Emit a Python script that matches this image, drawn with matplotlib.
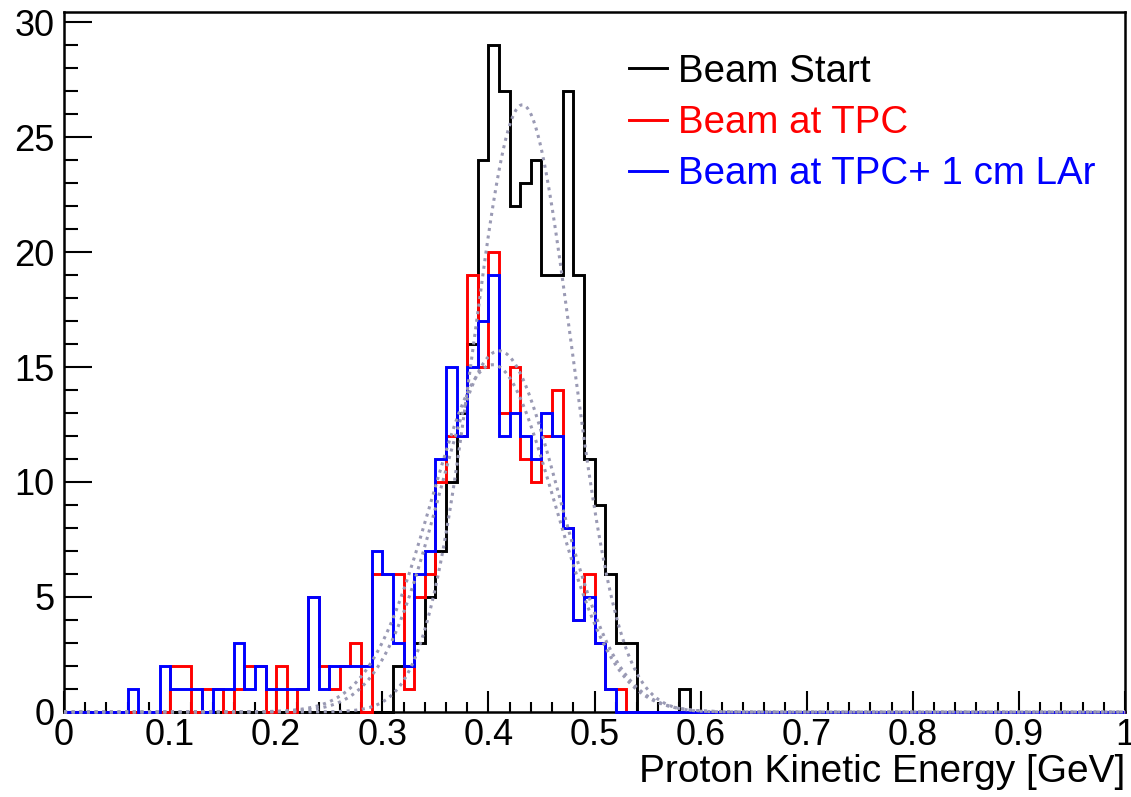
import numpy as np
import matplotlib
matplotlib.use("Agg")
import matplotlib.pyplot as plt

plt.rcParams['font.family'] = ['Liberation Sans', 'DejaVu Sans']

# 100 bins of 0.01 GeV from 0 to 1
bin_edges = np.linspace(0.0, 1.0, 101)

beam_start = (
    [0] * 20
    + [0, 0, 0, 0, 0, 0, 0, 0, 0, 0, 0, 2, 2, 3, 5, 7, 10, 13, 16, 24]
    + [29, 27, 22, 23, 24, 19, 19, 27, 19, 11, 9, 6, 3, 3, 0, 0, 0, 0, 1, 0]
    + [0] * 40
)
beam_tpc = (
    [0, 0, 0, 0, 0, 0, 0, 0, 0, 0, 2, 2, 0, 1, 1, 0, 1, 2, 2, 0]
    + [2, 0, 1, 5, 2, 1, 2, 3, 0, 6, 6, 6, 1, 5, 6, 10, 12, 12, 19, 15]
    + [20, 13, 15, 11, 10, 12, 14, 8, 4, 6, 3, 1, 1, 0, 0, 0, 0, 0, 0, 0]
    + [0] * 40
)
beam_tpc_lar = (
    [0, 0, 0, 0, 0, 0, 1, 0, 0, 2, 1, 1, 1, 0, 1, 1, 3, 1, 2, 1]
    + [1, 1, 1, 5, 1, 2, 2, 2, 2, 7, 6, 3, 2, 6, 7, 11, 15, 12, 15, 17]
    + [19, 12, 13, 12, 11, 13, 12, 8, 4, 5, 3, 1, 0, 0, 0, 0, 0, 0, 0, 0]
    + [0] * 40
)

labels = ["Beam Start", "Beam at TPC", "Beam at TPC+ 1 cm LAr"]
colors = ["black", "#ff0000", "#0000ff"]

# gaussian fit parameters
fit_amp = [26.4, 15.7, 15.1]
fit_mean = [0.432, 0.410, 0.404]
fit_sigma = [0.046, 0.056, 0.058]


def gaus(x, a, m, s):
    return a * np.exp(-0.5 * ((x - m) / s) ** 2)


fig = plt.figure(figsize=(11.31, 7.97), dpi=100)
ax = fig.add_axes([0.0566, 0.1067, 0.9381, 0.8786])

for counts, col, lab in zip([beam_start, beam_tpc, beam_tpc_lar], colors, labels):
    ax.stairs(counts, bin_edges, color=col, linewidth=2.1, zorder=3,
              clip_on=False, label=lab)

xs = np.linspace(0, 1, 1000)
for a, m, s in zip(fit_amp, fit_mean, fit_sigma):
    ax.plot(xs, gaus(xs, a, m, s), color="#9a9ab4", linewidth=2.2,
            linestyle=(0, (1.0, 1.5)), zorder=4, clip_on=False)

ax.set_xlim(0, 1)
ax.set_ylim(0, 30.45)

ax.set_xticks(np.arange(0, 1.01, 0.1))
ax.set_xticklabels(["0", "0.1", "0.2", "0.3", "0.4", "0.5", "0.6", "0.7",
                    "0.8", "0.9", "1"])
ax.set_xticks(np.arange(0, 1.001, 0.02), minor=True)
ax.set_yticks(np.arange(0, 31, 5))
ax.set_yticks(np.arange(0, 31, 1), minor=True)

ax.tick_params(axis='x', which='major', direction='in', length=15, width=1.5,
               labelsize=26, pad=4, top=False)
ax.tick_params(axis='x', which='minor', direction='in', length=7.5, width=1.5,
               top=False)
ax.tick_params(axis='y', which='major', direction='in', length=20, width=1.5,
               labelsize=26, pad=7, right=False)
ax.tick_params(axis='y', which='minor', direction='in', length=10, width=1.5,
               right=False)

for sp in ax.spines.values():
    sp.set_linewidth(1.8)

ax.set_xlabel("Proton Kinetic Energy [GeV]", fontsize=28, loc='right',
              labelpad=1)

ax.legend(handles=[plt.Line2D([], [], color=c, linewidth=2.1) for c in colors],
          labels=labels, loc='upper left',
          bbox_to_anchor=(0.518, 0.962), frameon=False, fontsize=27.7,
          handlelength=1.0, handletextpad=0.27, labelspacing=0.4,
          labelcolor=colors, borderaxespad=0)

fig.savefig("out.png", dpi=100)
